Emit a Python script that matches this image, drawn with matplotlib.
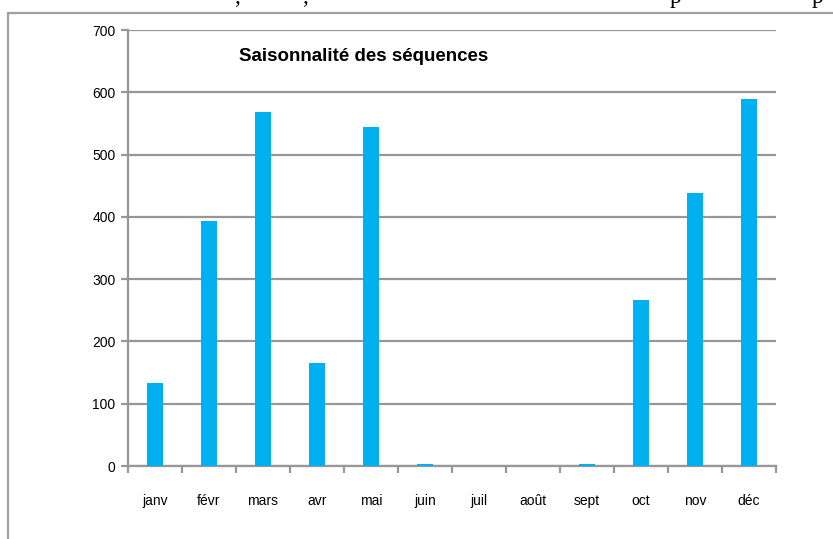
import matplotlib.pyplot as plt
from matplotlib.patches import Rectangle
import numpy as np

mois = ["janv", "févr", "mars", "avr", "mai", "juin", "juil", "août", "sept", "oct", "nov", "déc"]
sequences = [133, 393, 568, 166, 545, 3, 0, 0, 3, 267, 439, 590]
yticks = [0, 100, 200, 300, 400, 500, 600, 700]

plt.rcParams['font.family'] = ['Liberation Sans Narrow', 'Liberation Sans', 'DejaVu Sans']

gris = "#979797"
bleu = "#00B0F0"

fig = plt.figure(figsize=(8.33, 5.39), dpi=100)
ax = fig.add_axes([0.1537, 0.1354, 0.7779, 0.8089])

x = np.arange(len(mois))
ax.bar(x, sequences, width=0.28, color=bleu, zorder=3)

ax.set_xlim(-0.5, 11.5)
ax.set_ylim(0, 700)
ax.set_yticks(yticks)
ax.yaxis.grid(True, color=gris, linewidth=1.6, zorder=1)
ax.set_axisbelow(True)

ax.set_xticks(x)
ax.set_xticklabels(mois, fontsize=10)
ax.set_xticks(np.arange(-0.5, 12, 1), minor=True)
ax.tick_params(axis='x', which='major', length=0, pad=20)
ax.tick_params(axis='x', which='minor', length=5, width=1.6, color=gris)
ax.tick_params(axis='y', length=5, width=1.6, color=gris, labelsize=10, pad=4)

for s in ["top", "right"]:
    ax.spines[s].set_visible(False)
for s in ["left", "bottom"]:
    ax.spines[s].set_color(gris)
    ax.spines[s].set_linewidth(1.6)

ax.text(0.363, 0.94, "Saisonnalité des séquences", transform=ax.transAxes,
        ha="center", va="center", fontsize=13.5, fontweight="bold")

# cadre du graphique
fig.patches.append(Rectangle((8 / 833, -0.1), 1.0, 1.1 - 13.5 / 539,
                             transform=fig.transFigure, fill=False,
                             edgecolor="#a0a0a0", linewidth=1.6))

# bout de texte coupé au-dessus (comme dans la capture)
for xp, ch in [(237, ","), (305, ","), (676, "p"), (817, "p")]:
    fig.text(xp / 833, 1 - 3 / 539, ch, ha="center", va="baseline",
             fontsize=17, family="Liberation Serif")

fig.savefig("out.png", dpi=100)
